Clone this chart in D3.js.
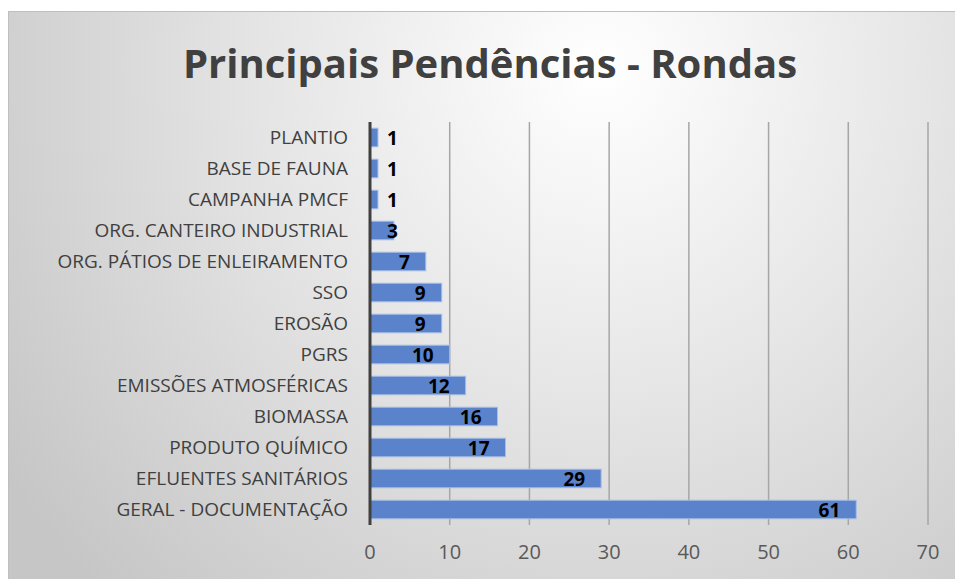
<!DOCTYPE html>
<html>
<head>
<meta charset="utf-8">
<script src="https://cdn.jsdelivr.net/npm/d3@7"></script>
<style>
  body { margin: 0; background: #fff; }
  svg { display: block; }
</style>
</head>
<body>
<script>
// Data
const categories = [
  'PLANTIO', 'BASE DE FAUNA', 'CAMPANHA PMCF', 'ORG. CANTEIRO INDUSTRIAL',
  'ORG. PÁTIOS DE ENLEIRAMENTO', 'SSO', 'EROSÃO', 'PGRS',
  'EMISSÕES ATMOSFÉRICAS', 'BIOMASSA', 'PRODUTO QUÍMICO',
  'EFLUENTES SANITÁRIOS', 'GERAL - DOCUMENTAÇÃO'
];
const values = [1, 1, 1, 3, 7, 9, 9, 10, 12, 16, 17, 29, 61];
const xTicks = [0, 10, 20, 30, 40, 50, 60, 70];
const title = 'Principais Pendências - Rondas';

// Layout
const width = 955;
const height = 579;
const plotLeft = 370;
const plotRight = 928;
const plotTop = 122;
const plotBottom = 525;
const font = '"Open Sans", "Noto Sans", sans-serif';

const svg = d3.select('body').append('svg')
  .attr('width', width)
  .attr('height', height);

const defs = svg.append('defs');
const grad = defs.append('radialGradient')
  .attr('id', 'bg')
  .attr('gradientUnits', 'userSpaceOnUse')
  .attr('cx', 600).attr('cy', 70).attr('r', 720);
grad.append('stop').attr('offset', '0%').attr('stop-color', '#ffffff');
grad.append('stop').attr('offset', '45%').attr('stop-color', '#e6e6e6');
grad.append('stop').attr('offset', '100%').attr('stop-color', '#c6c6c6');

svg.append('rect')
  .attr('x', 8.5).attr('y', 11.5)
  .attr('width', width).attr('height', height)
  .attr('fill', 'url(#bg)')
  .attr('stroke', '#bfbfbf')
  .attr('stroke-width', 1);

// Scales
const x = d3.scaleLinear().domain([0, 70]).range([plotLeft, plotRight]);
const y = d3.scaleBand().domain(categories).range([plotTop, plotBottom]).paddingInner(0.4).paddingOuter(0.2);

// Title
svg.append('text')
  .attr('x', 490).attr('y', 78)
  .attr('text-anchor', 'middle')
  .attr('font-family', font)
  .attr('font-weight', 'bold')
  .attr('font-size', 40)
  .attr('fill', '#404040')
  .text(title);

// Gridlines
svg.append('g')
  .attr('stroke', '#a6a6a6')
  .attr('stroke-width', 1.5)
  .selectAll('line')
  .data(xTicks.slice(1))
  .join('line')
  .attr('x1', d => x(d)).attr('x2', d => x(d))
  .attr('y1', plotTop).attr('y2', plotBottom);

// Bars
svg.append('g')
  .attr('fill', '#5a83cc')
  .attr('stroke', '#a9bfe6')
  .attr('stroke-width', 1)
  .selectAll('rect')
  .data(values)
  .join('rect')
  .attr('x', x(0))
  .attr('y', (d, i) => y(categories[i]))
  .attr('width', d => x(d) - x(0))
  .attr('height', y.bandwidth());

// Axis line
svg.append('line')
  .attr('x1', x(0)).attr('x2', x(0))
  .attr('y1', plotTop).attr('y2', plotBottom)
  .attr('stroke', '#404040')
  .attr('stroke-width', 3);

// Category labels
svg.append('g')
  .attr('font-family', font)
  .attr('font-size', 19)
  .attr('fill', '#404040')
  .attr('text-anchor', 'end')
  .selectAll('text')
  .data(categories)
  .join('text')
  .attr('x', 348)
  .attr('y', d => y(d) + y.bandwidth() / 2)
  .attr('dy', '0.36em')
  .text(d => d);

// X tick labels
svg.append('g')
  .attr('font-family', font)
  .attr('font-size', 20)
  .attr('fill', '#595959')
  .attr('text-anchor', 'middle')
  .selectAll('text')
  .data(xTicks)
  .join('text')
  .attr('x', d => x(d))
  .attr('y', 552)
  .attr('dy', '0.35em')
  .text(d => d);

// Value labels (inside end, clamped near the axis)
const labels = svg.append('g')
  .attr('font-family', font)
  .attr('font-size', 19)
  .attr('font-weight', 'bold')
  .attr('fill', '#000')
  .attr('text-anchor', 'end')
  .selectAll('text')
  .data(values)
  .join('text')
  .attr('y', (d, i) => y(categories[i]) + y.bandwidth() / 2)
  .attr('dy', '0.38em')
  .text(d => d);
labels.attr('x', function(d) {
  const w = this.getComputedTextLength();
  return Math.max(x(d) - 16, x(0) + 17 + w);
});
</script>
</body>
</html>
